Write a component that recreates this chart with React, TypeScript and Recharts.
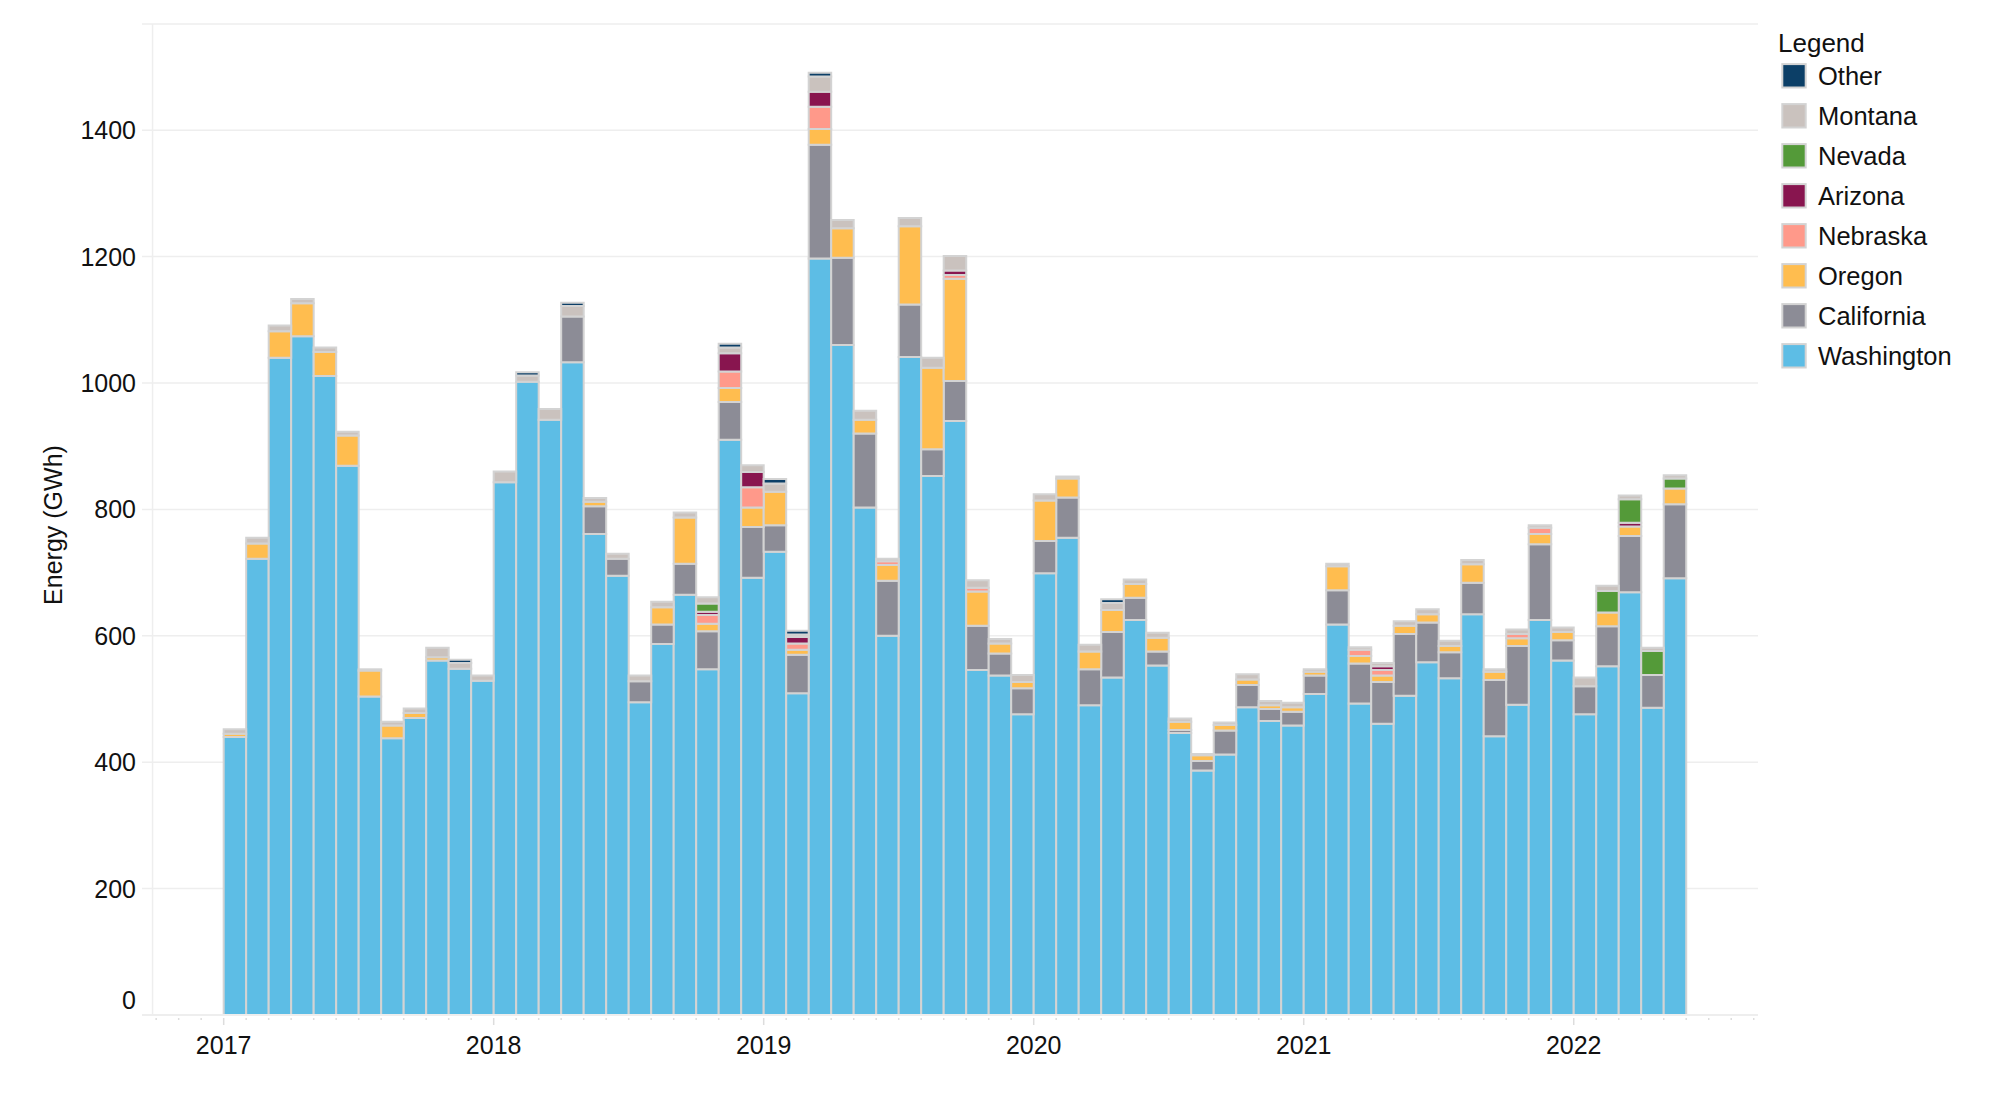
import React from "react";
import {
  BarChart,
  Bar,
  XAxis,
  YAxis,
  CartesianGrid,
  ReferenceLine,
  Legend,
} from "recharts";

// one bar per month, Jan 2017 .. May 2022
const months = [
  "2017-01", "2017-02", "2017-03", "2017-04", "2017-05", "2017-06", "2017-07", "2017-08", "2017-09", "2017-10", "2017-11", "2017-12",
  "2018-01", "2018-02", "2018-03", "2018-04", "2018-05", "2018-06", "2018-07", "2018-08", "2018-09", "2018-10", "2018-11", "2018-12",
  "2019-01", "2019-02", "2019-03", "2019-04", "2019-05", "2019-06", "2019-07", "2019-08", "2019-09", "2019-10", "2019-11", "2019-12",
  "2020-01", "2020-02", "2020-03", "2020-04", "2020-05", "2020-06", "2020-07", "2020-08", "2020-09", "2020-10", "2020-11", "2020-12",
  "2021-01", "2021-02", "2021-03", "2021-04", "2021-05", "2021-06", "2021-07", "2021-08", "2021-09", "2021-10", "2021-11", "2021-12",
  "2022-01", "2022-02", "2022-03", "2022-04", "2022-05",
];

const washington = [
  440, 722, 1040, 1074, 1011, 869, 504, 438, 470, 561, 548, 529,
  843, 1002, 942, 1033, 761, 695, 495, 587, 665, 547, 910, 692,
  733, 509, 1197, 1060, 803, 600, 1041, 853, 940, 546, 537, 476,
  699, 755, 490, 534, 625, 553, 446, 387, 412, 487, 465, 458,
  508, 618, 493, 461, 505, 558, 533, 634, 441, 491, 625, 561,
  476, 552, 669, 486, 691,
];
const california = [
  0, 0, 0, 0, 0, 0, 0, 0, 0, 0, 0, 0,
  0, 0, 0, 72, 44, 27, 33, 31, 49, 60, 60, 80,
  42, 61, 180, 138, 117, 87, 83, 42, 63, 70, 35, 41,
  51, 64, 57, 72, 35, 22, 5, 15, 38, 35, 19, 22,
  29, 54, 63, 66, 98, 63, 41, 50, 89, 93, 120, 32,
  44, 63, 89, 52, 117,
];
const oregon = [
  5, 24, 42, 52, 38, 48, 41, 20, 8, 5, 0, 0,
  0, 0, 0, 0, 7, 0, 0, 27, 73, 12, 22, 31,
  53, 8, 25, 47, 22, 25, 124, 129, 162, 54, 16, 10,
  64, 30, 28, 35, 22, 22, 13, 9, 9, 9, 6, 7,
  6, 38, 12, 10, 13, 13, 10, 29, 13, 12, 16, 13,
  0, 22, 15, 0, 25,
];
const nebraska = [
  0, 0, 0, 0, 0, 0, 0, 0, 0, 0, 0, 0,
  0, 0, 0, 0, 0, 0, 0, 0, 0, 14, 26, 32,
  0, 10, 35, 0, 0, 6, 0, 0, 6, 6, 0, 0,
  0, 0, 0, 0, 0, 0, 0, 0, 0, 0, 0, 0,
  0, 0, 10, 9, 0, 0, 0, 0, 0, 7, 10, 0,
  0, 0, 0, 0, 0,
];
const arizona = [
  0, 0, 0, 0, 0, 0, 0, 0, 0, 0, 0, 0,
  0, 0, 0, 0, 0, 0, 0, 0, 0, 5, 29, 24,
  0, 10, 24, 0, 0, 0, 0, 0, 7, 0, 0, 0,
  0, 0, 0, 0, 0, 0, 0, 0, 0, 0, 0, 0,
  0, 0, 0, 6, 0, 0, 0, 0, 0, 0, 0, 0,
  0, 0, 6, 0, 0,
];
const nevada = [
  0, 0, 0, 0, 0, 0, 0, 0, 0, 0, 0, 0,
  0, 0, 0, 0, 0, 0, 0, 0, 0, 13, 0, 0,
  0, 0, 0, 0, 0, 0, 0, 0, 0, 0, 0, 0,
  0, 0, 0, 0, 0, 0, 0, 0, 0, 0, 0, 0,
  0, 0, 0, 0, 0, 0, 0, 0, 0, 0, 0, 0,
  0, 34, 37, 38, 16,
];
const montana = [
  7, 9, 9, 7, 7, 6, 2, 6, 7, 15, 9, 8,
  17, 10, 17, 17, 6, 8, 9, 9, 8, 10, 9, 11,
  13, 4, 24, 13, 14, 4, 13, 16, 23, 12, 7, 11,
  10, 3, 11, 11, 7, 8, 5, 2, 4, 8, 7, 7,
  4, 4, 4, 5, 7, 8, 8, 7, 4, 7, 4, 7,
  14, 8, 6, 5, 5,
];
const other = [
  0, 0, 0, 0, 0, 0, 0, 0, 0, 0, 5, 0,
  0, 5, 0, 5, 0, 0, 0, 0, 0, 0, 6, 0,
  7, 6, 6, 0, 0, 0, 0, 0, 0, 0, 0, 0,
  0, 0, 0, 6, 0, 0, 0, 0, 0, 0, 0, 0,
  0, 0, 0, 0, 0, 0, 0, 0, 0, 0, 0, 0,
  0, 0, 0, 0, 0,
];

const yearLabels = ["2017", "2018", "2019", "2020", "2021", "2022"];
const yTicks = [0, 200, 400, 600, 800, 1000, 1200, 1400];

// bottom of the stack first
const series = [
  { key: "Washington", values: washington, color: "#5DBDE5" },
  { key: "California", values: california, color: "#8C8C96" },
  { key: "Oregon", values: oregon, color: "#FFBD4F" },
  { key: "Nebraska", values: nebraska, color: "#FF998A" },
  { key: "Arizona", values: arizona, color: "#88154F" },
  { key: "Nevada", values: nevada, color: "#549A39" },
  { key: "Montana", values: montana, color: "#CAC2BE" },
  { key: "Other", values: other, color: "#0C3F67" },
];

// x is months since Jan 2017, bars sit in the middle of their month
const data = months.map((label, i) => {
  const row: Record<string, number | string> = { m: i + 0.5, label };
  series.forEach((s) => {
    row[s.key] = s.values[i];
  });
  return row;
});

const monthTicks = Array.from({ length: 72 }, (_, i) => i - 3);

const FONT = "'Liberation Sans', Arial, Helvetica, sans-serif";
const GRID = "#eeeeee";
const EDGE = "#d3d3d3";

const XTick = (props: any) => {
  const { x, y, payload } = props;
  const v = payload.value;
  const major = v >= 0 && v % 12 === 0;
  return (
    <g>
      <line x1={x} x2={x} y1={y + 3} y2={y + (major ? 10 : 5)} stroke="#dddddd" strokeWidth={1.5} />
      {major && (
        <text x={x} y={y + 39} textAnchor="middle" fontSize={25} fill="#111">
          {yearLabels[v / 12]}
        </text>
      )}
    </g>
  );
};

const YTick = (props: any) => {
  const { x, y, payload } = props;
  // plotly nudges the zero label up off the axis line
  const shift = payload.value === 0 ? -15 : 0;
  return (
    <text x={x} y={y + shift + 9} textAnchor="end" fontSize={25} fill="#111">
      {payload.value}
    </text>
  );
};

const YTitle = () => (
  <text
    x={54}
    y={517}
    transform="rotate(-90 54 517)"
    textAnchor="middle"
    fontSize={25}
    fill="#111"
  >
    Energy (GWh)
  </text>
);

const LegendBox = () => {
  const items = [...series].reverse();
  return (
    <svg width={220} height={400} style={{ fontFamily: FONT }}>
      <text x={10} y={44} fontSize={26} fill="#111">
        Legend
      </text>
      {items.map((s, k) => {
        const cy = 67.8 + k * 40;
        return (
          <g key={s.key}>
            <rect x={14.3} y={cy - 11.7} width={23.4} height={23.4} fill={s.color} stroke={EDGE} strokeWidth={2} />
            <text x={50} y={cy + 9} fontSize={25.5} fill="#111">
              {s.key}
            </text>
          </g>
        );
      })}
    </svg>
  );
};

export default function App() {
  return (
    <div style={{ fontFamily: FONT }}>
      <BarChart
        width={1982}
        height={1082}
        data={data}
        margin={{ top: 16, right: 232, bottom: 15, left: 34 }}
        style={{ fontFamily: FONT }}
      >
        <CartesianGrid vertical={false} stroke={GRID} strokeWidth={1.5} />
        <ReferenceLine x={-3.16} stroke={GRID} strokeWidth={1.5} />
        <XAxis
          dataKey="m"
          type="number"
          domain={[-3.63, 68.19]}
          allowDataOverflow
          ticks={monthTicks}
          interval={0}
          tick={<XTick />}
          tickLine={false}
          tickSize={0}
          tickMargin={0}
          axisLine={{ stroke: GRID, strokeWidth: 2 }}
          height={60}
        />
        <YAxis
          type="number"
          domain={[0, 1568]}
          allowDataOverflow
          ticks={yTicks}
          interval={0}
          tick={<YTick />}
          tickLine={false}
          tickSize={0}
          tickMargin={6}
          axisLine={false}
          width={100}
          label={<YTitle />}
        />
        <Legend
          layout="vertical"
          align="center"
          verticalAlign="middle"
          wrapperStyle={{ left: 1760, top: 0, width: 220, height: 400 }}
          content={() => <LegendBox />}
        />
        {series.map((s) => (
          <Bar
            key={s.key}
            dataKey={s.key}
            stackId="states"
            fill={s.color}
            stroke={EDGE}
            strokeWidth={2}
            barSize={22.5}
            isAnimationActive={false}
          />
        ))}
      </BarChart>
    </div>
  );
}
